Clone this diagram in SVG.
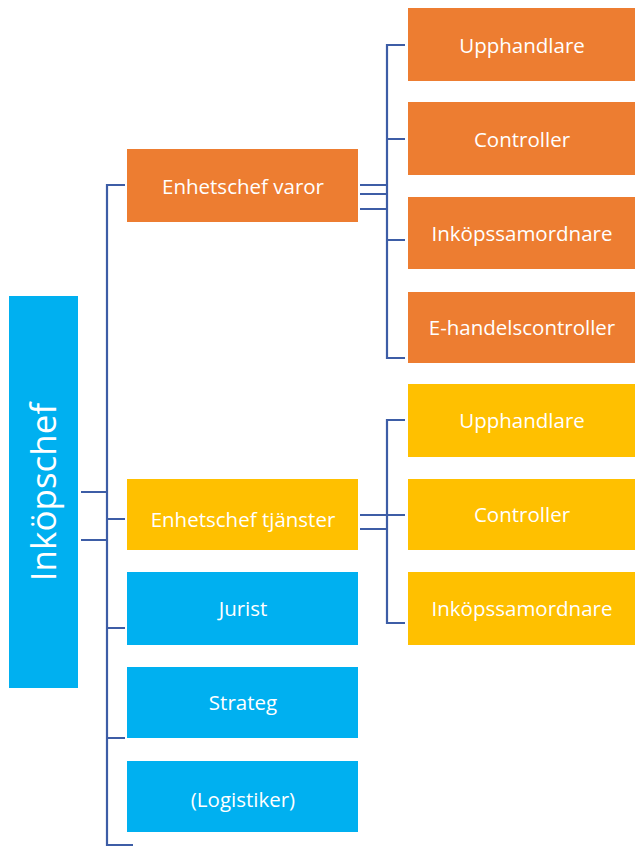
<svg xmlns="http://www.w3.org/2000/svg" width="635" height="846" viewBox="0 0 635 846">
<style>
.o{fill:#ED7D31}.y{fill:#FFC000}.b{fill:#00B0F0}
.t{fill:#fff;font-family:"Open Sans","Liberation Sans",sans-serif;font-size:20.5px;text-anchor:middle;dominant-baseline:central}
.c{stroke:#3D5DA6;stroke-width:2.2;fill:none}
</style>
<rect width="635" height="846" fill="#fff"/>
<g id="inkopschef"><rect class="b" x="9" y="296" width="69" height="392"/><text class="t" transform="translate(42,492) rotate(-90)" style="font-size:35px">Inköpschef</text></g>
<g id="enhetschef-varor"><rect class="o" x="127" y="149" width="231" height="73"/><text class="t" x="243" y="185.5">Enhetschef varor</text></g>
<g id="enhetschef-tjanster"><rect class="y" x="127" y="479" width="231" height="71"/><text class="t" x="243" y="519">Enhetschef tjänster</text></g>
<g id="jurist"><rect class="b" x="127" y="572" width="231" height="73"/><text class="t" x="243" y="608">Jurist</text></g>
<g id="strateg"><rect class="b" x="127" y="667" width="231" height="71"/><text class="t" x="243" y="702">Strateg</text></g>
<g id="logistiker"><rect class="b" x="127" y="761" width="231" height="71"/><text class="t" x="243" y="799">(Logistiker)</text></g>
<g id="v-upphandlare"><rect class="o" x="408" y="8" width="227" height="73"/><text class="t" x="522" y="45">Upphandlare</text></g>
<g id="v-controller"><rect class="o" x="408" y="102" width="227" height="73"/><text class="t" x="522" y="139">Controller</text></g>
<g id="v-inkopssamordnare"><rect class="o" x="408" y="197" width="227" height="72"/><text class="t" x="522" y="233">Inköpssamordnare</text></g>
<g id="v-ehandelscontroller"><rect class="o" x="408" y="292" width="227" height="71"/><text class="t" x="522" y="327">E-handelscontroller</text></g>
<g id="t-upphandlare"><rect class="y" x="408" y="384" width="227" height="73"/><text class="t" x="522" y="420">Upphandlare</text></g>
<g id="t-controller"><rect class="y" x="408" y="479" width="227" height="71"/><text class="t" x="522" y="514">Controller</text></g>
<g id="t-inkopssamordnare"><rect class="y" x="408" y="572" width="227" height="73"/><text class="t" x="522" y="608">Inköpssamordnare</text></g>
<g id="connectors">
<path class="c" d="M125,185H107V846M81,492H107M81,540H107M107,519H125M107,628H125M107,738H125M107,845H133"/>
<path class="c" d="M405,45H387V358H405M387,139H405M387,240H405M360,185H387M360,194H387M360,209H387"/>
<path class="c" d="M405,420H387V623H405M360,515H405M360,529H387"/>
</g>
</svg>
